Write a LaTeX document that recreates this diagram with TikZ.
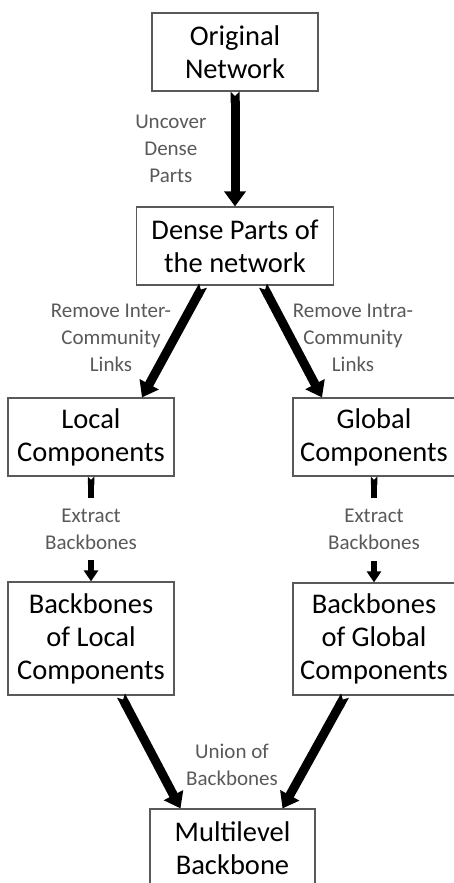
\documentclass[tikz,border=0pt]{standalone}
\usepackage{fontspec}
\setmainfont{Carlito}
\usetikzlibrary{arrows.meta, positioning, calc}
\usepackage{xcolor}
\definecolor{boxline}{HTML}{595959}
\definecolor{lblgray}{HTML}{595959}

\begin{document}
\begin{tikzpicture}[
    x=1pt, y=-1pt,
    box/.style={
        rectangle, draw=boxline, line width=1.2pt, fill=white,
        minimum width=166pt, minimum height=78pt, inner sep=0pt,
        font=\fontsize{28.5}{33}\selectfont, text=black, align=center
    },
    lbl/.style={font=\fontsize{21}{27}\selectfont, text=lblgray, align=center, inner sep=2pt},
    bigarrow/.style={line width=9pt, {Triangle Cap[reversed]}-{Triangle[length=15pt, width=21pt]}},
    smallarrow/.style={line width=6.5pt, {Triangle Cap[reversed]}-{Triangle[length=11pt, width=14pt]}},
]

\useasboundingbox (0,0) rectangle (454,883);
\clip (0,0) rectangle (454,883);

% Nodes
\node[box] (orig) at (235,52) {Original\\Network};
\node[box, minimum width=197pt] (dense) at (235,246) {Dense Parts of\\the network};
\node[box] (local) at (91,437) {Local\\Components};
\node[box, minimum width=162pt] (global) at (374,437) {Global\\Components};
\node[box, minimum height=113pt] (bblocal) at (91,638.5) {Backbones\\of Local\\Components};
\node[box, minimum width=162pt, minimum height=112pt] (bbglobal) at (374,639) {Backbones\\of Global\\Components};
\node[box, minimum width=165pt] (multi) at (232.5,848) {Multilevel\\Backbone};

% Top arrow: Original -> Dense
\draw[bigarrow] (orig.south) -- node[lbl, left=22pt] (uncover) {Uncover\\Dense\\Parts} (dense.north);

% Split into local and global parts
\draw[bigarrow] ([xshift=-32pt]dense.south) -- ([xshift=51pt]local.north);
\draw[bigarrow] ([xshift=28pt]dense.south) -- ([xshift=-52pt]global.north);
\node[lbl] (inter) at (111,338) {Remove Inter-\\Community\\Links};
\node[lbl] (intra) at (353,338) {Remove Intra-\\Community\\Links};

% Backbone extraction on both sides
\draw[smallarrow] (local) -- node[lbl, fill=white, inner xsep=3pt, inner ysep=11pt] (extractl) {Extract\\Backbones} (bblocal);
\draw[smallarrow] (global) -- node[lbl, fill=white, inner xsep=3pt, inner ysep=11pt] (extractg) {Extract\\Backbones} (bbglobal);

% Merge into the multilevel backbone
\draw[bigarrow] ([xshift=30pt]bblocal.south) -- ([xshift=-52pt]multi.north);
\draw[bigarrow] ([xshift=-29pt]bbglobal.south) -- ([xshift=50pt]multi.north);
\node[lbl] (union) at (232,765) {Union of\\Backbones};

\end{tikzpicture}
\end{document}
